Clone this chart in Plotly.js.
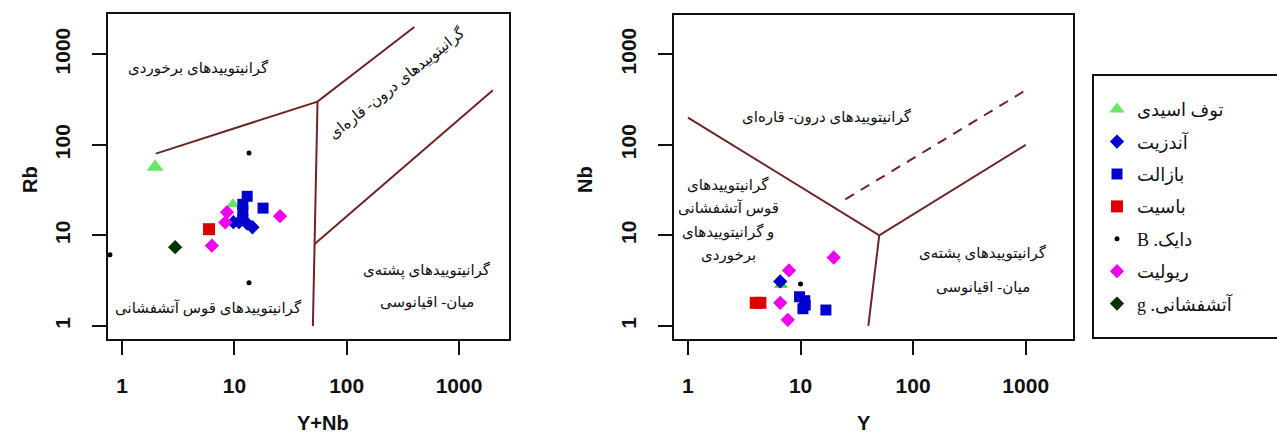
<!DOCTYPE html>
<html><head><meta charset="utf-8">
<script src="https://cdn.plot.ly/plotly-3.0.1.min.js"></script>
<style>html,body{margin:0;padding:0;background:#fff}#chart{width:1277px;height:446px}</style>
</head><body><div id="chart"></div>
<script>
// ---- series names ----
const seriesNames = ['توف اسیدی','آندزیت','بازالت','باسیت','دایک. B','ریولیت','آتشفشانی. g'];
// ---- left diagram: Rb vs Y+Nb ----
const L_tuf_x = [1.97, 9.7];      const L_tuf_y = [57, 22];
const L_and_x = [9.8, 11, 13, 14.5]; const L_and_y = [14, 14, 13.5, 12.3];
const L_bas_x = [13, 11.9, 11.9, 11.9, 18]; const L_bas_y = [27, 22, 18.5, 15, 20];
const L_bsi_x = [5.95];           const L_bsi_y = [11.7];
const L_dyk_x = [13.5, 13.5, 0.78]; const L_dyk_y = [81, 3.0, 6.1];
const L_rhy_x = [6.3, 8.6, 8.3, 25.5]; const L_rhy_y = [7.7, 18, 13.9, 16.3];
const L_vol_x = [2.97];           const L_vol_y = [7.4];
// ---- right diagram: Nb vs Y ----
const R_tuf_x = [6.7];            const R_tuf_y = [2.85];
const R_and_x = [6.6];            const R_and_y = [3.1];
const R_bas_x = [9.8, 10.9, 10.5, 11, 16.8]; const R_bas_y = [2.1, 1.9, 1.55, 1.7, 1.5];
const R_bsi_x = [4.0, 4.4];       const R_bsi_y = [1.8, 1.8];
const R_dyk_x = [10];             const R_dyk_y = [2.9];
const R_rhy_x = [6.6, 7.7, 7.9, 19.7]; const R_rhy_y = [1.8, 1.17, 4.1, 5.7];
// ---- boundary lines ----
const L_b1_x = [2, 55, 400];      const L_b1_y = [80, 300, 2000];
const L_b2_x = [55, 51.5, 50];    const L_b2_y = [300, 8, 1];
const L_b3_x = [51.5, 2000];      const L_b3_y = [8, 400];
const R_b1_x = [1, 50, 1000];     const R_b1_y = [200, 10, 100];
const R_b2_x = [50, 40];          const R_b2_y = [10, 1];
const R_b3_x = [25, 1000];        const R_b3_y = [25, 400];
// ---- ticks ----
const tickVals = [1, 10, 100, 1000];
const tickText = ['1', '10', '100', '1000'];

const lineColor = '#6e2424';
const styles = [
  {symbol:'triangle-up', color:'#22dd22', size:12},
  {symbol:'diamond', color:'#0000cc', size:11},
  {symbol:'square', color:'#0000cc', size:11},
  {symbol:'square', color:'#dd0000', size:12},
  {symbol:'circle', color:'#000000', size:5},
  {symbol:'diamond', color:'#ee00ee', size:11},
  {symbol:'diamond', color:'#003300', size:11}
];
const leftData = [[L_tuf_x,L_tuf_y],[L_and_x,L_and_y],[L_bas_x,L_bas_y],[L_bsi_x,L_bsi_y],[L_dyk_x,L_dyk_y],[L_rhy_x,L_rhy_y],[L_vol_x,L_vol_y]];
const rightData = [[R_tuf_x,R_tuf_y],[R_and_x,R_and_y],[R_bas_x,R_bas_y],[R_bsi_x,R_bsi_y],[R_dyk_x,R_dyk_y],[R_rhy_x,R_rhy_y],null];

const rtl = s => '\u202B' + s + '\u202C';
const traces = [];
function lineTrace(x, y, xa, ya, dash){
  traces.push({x, y, xaxis:xa, yaxis:ya, mode:'lines', showlegend:false, hoverinfo:'skip',
    line:{color:lineColor, width:2, dash:dash||'solid'}});
}
lineTrace(L_b1_x, L_b1_y, 'x', 'y');
lineTrace(L_b2_x, L_b2_y, 'x', 'y');
lineTrace(L_b3_x, L_b3_y, 'x', 'y');
lineTrace(R_b1_x, R_b1_y, 'x2', 'y2');
lineTrace(R_b2_x, R_b2_y, 'x2', 'y2');
lineTrace(R_b3_x, R_b3_y, 'x2', 'y2', '10px,8px');

seriesNames.forEach((nm, i) => {
  const st = styles[i];
  const mk = {symbol:st.symbol, color:st.color, size:st.size, line:{width:0}};
  const ld = leftData[i];
  let mkL = Object.assign({}, mk);
  if (i === 0) mkL.size = [15, 12];
  traces.push({x:ld[0], y:ld[1], xaxis:'x', yaxis:'y', mode:'markers', name:rtl(nm),
    legendgroup:'g'+i, showlegend:true, marker:mkL, cliponaxis:true});
  const rd = rightData[i];
  if (rd) traces.push({x:rd[0], y:rd[1], xaxis:'x2', yaxis:'y2', mode:'markers', name:rtl(nm),
    legendgroup:'g'+i, showlegend:false, marker:mk});
});

const W = 1277, H = 446;
const px = v => v / W, py = v => 1 - v / H;
const axFont = {family:'Liberation Sans, Arial, sans-serif', size:21, color:'#111', weight:'bold'};
const faFont = {family:'Liberation Serif, DejaVu Sans, serif', size:15, color:'#111'};

function xAxis(dom, rng){
  return {type:'log', domain:dom, range:rng, showgrid:false, zeroline:false,
    showline:true, mirror:true, linecolor:'#111', linewidth:2,
    ticks:'outside', ticklen:14, tickwidth:2, tickcolor:'#111',
    tickvals:tickVals, ticktext:tickText, tickfont:axFont, ticklabelstandoff:13};
}
function yAxis(dom, rng){
  return {type:'log', domain:dom, range:rng, showgrid:false, zeroline:false,
    showline:true, mirror:true, linecolor:'#111', linewidth:2,
    ticks:'outside', ticklen:14, tickwidth:2, tickcolor:'#111',
    tickvals:tickVals, ticktext:tickText, tickfont:axFont, tickangle:-90, ticklabelstandoff:14};
}

const ann = [];
function addText(t, x, y, opts){
  ann.push(Object.assign({text:rtl(t), x:px(x), y:py(y), xref:'paper', yref:'paper',
    showarrow:false, font:faFont, xanchor:'center', yanchor:'middle'}, opts||{}));
}
addText('گرانیتوییدهای برخوردی', 198, 68);
addText('گرانیتوییدهای درون- قاره‌ای', 397, 83, {textangle:-38.5});
addText('گرانیتوییدهای پشته‌ی', 427, 270);
addText('میان- اقیانوسی', 427, 302);
addText('گرانیتوییدهای قوس آتشفشانی', 208, 308);
addText('گرانیتوییدهای درون- قاره‌ای', 827, 117);
addText('گرانیتوییدهای', 728, 185);
addText('قوس آتشفشانی', 728, 208);
addText('و گرانیتوییدهای', 728, 232);
addText('برخوردی', 728, 255);
addText('گرانیتوییدهای پشته‌ی', 983, 253);
addText('میان- اقیانوسی', 983, 287);
// axis titles
const titleFont = {family:'Liberation Sans, Arial, sans-serif', size:20, color:'#111', weight:'bold'};
ann.push({text:'Rb', x:px(17), y:py(180), xref:'paper', yref:'paper', showarrow:false, textangle:-90, font:titleFont});
ann.push({text:'Y+Nb', x:px(295), y:py(436), xref:'paper', yref:'paper', showarrow:false, font:titleFont});
ann.push({text:'Nb', x:px(585), y:py(180), xref:'paper', yref:'paper', showarrow:false, textangle:-90, font:titleFont});
ann.push({text:'Y', x:px(873), y:py(436), xref:'paper', yref:'paper', showarrow:false, font:titleFont});

const layout = {
  width:W, height:H, margin:{l:0, r:0, t:0, b:0}, paper_bgcolor:'#fff', plot_bgcolor:'#fff',
  xaxis: xAxis([px(108), px(509)], [-0.125, 3.445]),
  yaxis: yAxis([py(339), py(14)], [-0.144, 3.444]),
  xaxis2: Object.assign(xAxis([px(674), px(1073)], [-0.124, 3.42]), {anchor:'y2'}),
  yaxis2: Object.assign(yAxis([py(339), py(15)], [-0.144, 3.433]), {anchor:'x2'}),
  annotations: ann,
  shapes:[{type:'rect', xref:'paper', yref:'paper', x0:px(1093), x1:px(1300), y0:py(338), y1:py(75),
    line:{color:'#111', width:2}, fillcolor:'rgba(0,0,0,0)'}],
  showlegend:true,
  legend:{x:px(1097), y:py(91), xanchor:'left', yanchor:'top', bgcolor:'rgba(0,0,0,0)', borderwidth:0,
    traceorder:'grouped', tracegroupgap:6, itemsizing:'trace',
    font:{family:'Liberation Serif, DejaVu Sans, serif', size:18, color:'#111'}}
};
Plotly.newPlot('chart', traces, layout, {staticPlot:true, displayModeBar:false});
</script></body></html>
